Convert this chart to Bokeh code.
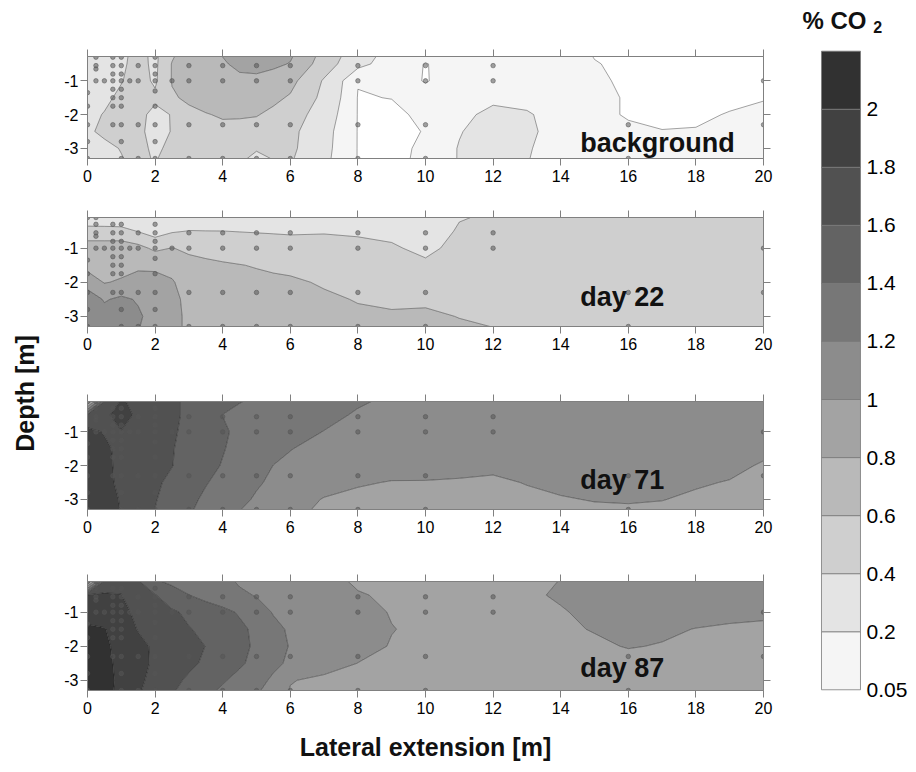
import numpy as np
from bokeh.plotting import figure
from bokeh.models import Range1d, LinearAxis, FixedTicker, Label, ColumnDataSource
from bokeh.core.properties import value
from bokeh.layouts import row, column
from bokeh.embed import file_html
from bokeh.resources import INLINE

FONT = "Liberation Sans"

# Grid nodes of the CO2 fields: lateral position [m] and depth [m]
lateral = [0, 0.5, 1, 1.5, 2, 2.5, 3, 3.5, 4, 4.5, 5, 5.5, 6, 7, 8, 9, 10,
           11, 12, 13, 14, 15, 16, 17, 18, 19, 20]
depth = [-0.1, -0.5, -1.0, -1.5, -2.0, -2.5, -3.0, -3.3]

# CO2 concentration [%] per depth row (top row = shallowest)
co2_background = [
    [0.30, 0.30, 0.36, 0.45, 0.36, 0.55, 0.70, 0.76, 0.82, 0.90, 0.95, 0.90, 0.85, 0.55, 0.30, 0.15, 0.10, 0.12, 0.13, 0.13, 0.10, 0.04, 0.03, 0.02, 0.02, 0.02, 0.02],
    [0.30, 0.30, 0.37, 0.46, 0.36, 0.61, 0.72, 0.75, 0.78, 0.84, 0.87, 0.84, 0.79, 0.50, 0.25, 0.12, 0.045, 0.10, 0.12, 0.12, 0.10, 0.055, 0.03, 0.02, 0.02, 0.02, 0.02],
    [0.30, 0.33, 0.39, 0.48, 0.37, 0.61, 0.68, 0.72, 0.75, 0.76, 0.75, 0.71, 0.66, 0.38, 0.055, 0.09, 0.045, 0.09, 0.12, 0.12, 0.10, 0.07, 0.03, 0.02, 0.02, 0.02, 0.03],
    [0.30, 0.36, 0.44, 0.50, 0.44, 0.58, 0.63, 0.68, 0.72, 0.72, 0.70, 0.64, 0.58, 0.35, 0.045, 0.052, 0.08, 0.12, 0.16, 0.14, 0.10, 0.08, 0.04, 0.02, 0.02, 0.03, 0.045],
    [0.35, 0.41, 0.47, 0.46, 0.34, 0.41, 0.56, 0.59, 0.62, 0.62, 0.61, 0.56, 0.50, 0.30, 0.045, 0.03, 0.07, 0.15, 0.25, 0.22, 0.12, 0.08, 0.04, 0.035, 0.035, 0.055, 0.07],
    [0.37, 0.44, 0.47, 0.45, 0.32, 0.41, 0.52, 0.54, 0.55, 0.54, 0.53, 0.50, 0.45, 0.26, 0.045, 0.02, 0.055, 0.19, 0.28, 0.24, 0.12, 0.08, 0.07, 0.052, 0.055, 0.07, 0.08],
    [0.30, 0.35, 0.41, 0.46, 0.36, 0.45, 0.48, 0.49, 0.50, 0.47, 0.42, 0.45, 0.44, 0.25, 0.045, 0.02, 0.07, 0.21, 0.28, 0.22, 0.10, 0.08, 0.08, 0.07, 0.07, 0.08, 0.08],
    [0.30, 0.34, 0.39, 0.46, 0.38, 0.50, 0.48, 0.49, 0.50, 0.44, 0.35, 0.41, 0.42, 0.24, 0.045, 0.02, 0.075, 0.21, 0.26, 0.21, 0.10, 0.08, 0.08, 0.08, 0.08, 0.08, 0.08],
]

co2_day22 = [
    [0.28, 0.27, 0.25, 0.30, 0.28, 0.30, 0.30, 0.30, 0.30, 0.30, 0.30, 0.30, 0.30, 0.30, 0.30, 0.30, 0.25, 0.39, 0.42, 0.50, 0.50, 0.50, 0.50, 0.50, 0.50, 0.50, 0.50],
    [0.47, 0.47, 0.47, 0.39, 0.31, 0.38, 0.405, 0.402, 0.401, 0.395, 0.39, 0.385, 0.38, 0.39, 0.38, 0.36, 0.30, 0.42, 0.45, 0.50, 0.50, 0.50, 0.50, 0.50, 0.50, 0.50, 0.50],
    [0.70, 0.70, 0.70, 0.66, 0.56, 0.605, 0.57, 0.545, 0.52, 0.505, 0.49, 0.48, 0.47, 0.45, 0.44, 0.42, 0.36, 0.45, 0.47, 0.50, 0.50, 0.50, 0.50, 0.50, 0.50, 0.50, 0.50],
    [0.74, 0.73, 0.74, 0.76, 0.77, 0.725, 0.65, 0.635, 0.62, 0.605, 0.59, 0.57, 0.55, 0.51, 0.49, 0.47, 0.43, 0.49, 0.50, 0.50, 0.50, 0.50, 0.50, 0.50, 0.50, 0.50, 0.50],
    [0.90, 0.79, 0.82, 0.88, 0.85, 0.82, 0.70, 0.68, 0.66, 0.65, 0.64, 0.635, 0.63, 0.58, 0.53, 0.52, 0.50, 0.52, 0.52, 0.50, 0.50, 0.50, 0.50, 0.50, 0.50, 0.50, 0.50],
    [1.13, 0.98, 1.04, 0.98, 0.90, 0.85, 0.75, 0.72, 0.70, 0.69, 0.68, 0.675, 0.67, 0.63, 0.59, 0.57, 0.57, 0.56, 0.55, 0.50, 0.50, 0.50, 0.50, 0.50, 0.50, 0.50, 0.50],
    [1.15, 1.08, 1.10, 1.03, 0.92, 0.86, 0.76, 0.74, 0.72, 0.71, 0.70, 0.69, 0.68, 0.66, 0.63, 0.62, 0.63, 0.595, 0.58, 0.50, 0.50, 0.50, 0.50, 0.50, 0.50, 0.50, 0.50],
    [1.15, 1.10, 1.10, 1.01, 0.92, 0.86, 0.76, 0.74, 0.72, 0.71, 0.70, 0.69, 0.68, 0.66, 0.64, 0.63, 0.64, 0.62, 0.598, 0.50, 0.50, 0.50, 0.50, 0.50, 0.50, 0.50, 0.50],
]

co2_day71 = [
    [0.60, 1.60, 1.82, 1.75, 1.68, 1.63, 1.57, 1.50, 1.44, 1.405, 1.38, 1.35, 1.33, 1.28, 1.22, 1.17, 1.15, 1.12, 1.12, 1.12, 1.12, 1.12, 1.12, 1.12, 1.12, 1.12, 1.12],
    [1.65, 1.75, 1.90, 1.75, 1.68, 1.63, 1.57, 1.49, 1.398, 1.37, 1.35, 1.33, 1.31, 1.25, 1.18, 1.15, 1.14, 1.12, 1.12, 1.12, 1.12, 1.12, 1.12, 1.12, 1.12, 1.12, 1.12],
    [1.85, 1.79, 1.79, 1.74, 1.68, 1.62, 1.56, 1.49, 1.42, 1.37, 1.33, 1.30, 1.27, 1.195, 1.16, 1.14, 1.13, 1.12, 1.12, 1.12, 1.12, 1.12, 1.12, 1.12, 1.12, 1.12, 1.12],
    [1.86, 1.83, 1.76, 1.72, 1.67, 1.61, 1.54, 1.47, 1.41, 1.35, 1.29, 1.25, 1.205, 1.15, 1.13, 1.12, 1.12, 1.12, 1.12, 1.12, 1.11, 1.11, 1.11, 1.10, 1.09, 1.07, 1.05],
    [1.87, 1.84, 1.76, 1.71, 1.65, 1.605, 1.52, 1.45, 1.39, 1.32, 1.26, 1.198, 1.17, 1.13, 1.10, 1.08, 1.07, 1.06, 1.05, 1.06, 1.08, 1.09, 1.10, 1.09, 1.08, 1.05, 0.98],
    [1.88, 1.84, 1.77, 1.70, 1.63, 1.56, 1.48, 1.41, 1.35, 1.28, 1.22, 1.17, 1.14, 1.07, 1.02, 0.99, 0.99, 0.98, 0.96, 1.01, 1.05, 1.07, 1.08, 1.05, 1.02, 0.99, 0.93],
    [1.88, 1.85, 1.79, 1.68, 1.61, 1.53, 1.44, 1.37, 1.31, 1.24, 1.18, 1.13, 1.08, 0.99, 0.95, 0.94, 0.93, 0.93, 0.92, 0.95, 0.985, 1.01, 1.015, 1.005, 0.97, 0.93, 0.90],
    [1.88, 1.85, 1.795, 1.68, 1.598, 1.52, 1.42, 1.35, 1.29, 1.205, 1.15, 1.10, 1.05, 0.97, 0.93, 0.92, 0.91, 0.91, 0.90, 0.92, 0.95, 0.97, 0.98, 0.97, 0.95, 0.92, 0.88],
]

co2_day87 = [
    [0.60, 1.65, 1.75, 1.62, 1.42, 1.37, 1.34, 1.31, 1.25, 1.18, 1.15, 1.12, 1.10, 1.05, 0.98, 0.95, 0.93, 0.92, 0.92, 0.95, 1.005, 1.05, 1.07, 1.07, 1.06, 1.05, 1.05],
    [1.82, 1.83, 1.805, 1.68, 1.61, 1.47, 1.402, 1.34, 1.28, 1.23, 1.19, 1.16, 1.13, 1.07, 1.01, 0.98, 0.95, 0.93, 0.93, 0.96, 1.03, 1.07, 1.09, 1.09, 1.08, 1.07, 1.07],
    [1.92, 1.90, 1.86, 1.75, 1.67, 1.63, 1.56, 1.50, 1.45, 1.38, 1.27, 1.19, 1.16, 1.11, 1.06, 0.99, 0.96, 0.94, 0.94, 0.96, 0.98, 1.06, 1.09, 1.09, 1.07, 1.04, 1.02],
    [2.03, 2.01, 1.90, 1.79, 1.72, 1.66, 1.61, 1.56, 1.48, 1.44, 1.36, 1.24, 1.18, 1.12, 1.07, 1.005, 0.97, 0.95, 0.94, 0.95, 0.97, 1.01, 1.04, 1.03, 0.995, 0.98, 0.98],
    [2.06, 2.04, 1.93, 1.85, 1.77, 1.70, 1.64, 1.598, 1.52, 1.45, 1.37, 1.27, 1.19, 1.12, 1.06, 0.99, 0.96, 0.94, 0.93, 0.93, 0.94, 0.97, 1.01, 0.99, 0.96, 0.95, 0.95],
    [2.08, 2.05, 1.95, 1.86, 1.77, 1.68, 1.64, 1.57, 1.49, 1.43, 1.34, 1.24, 1.17, 1.08, 0.998, 0.96, 0.94, 0.93, 0.92, 0.92, 0.92, 0.93, 0.94, 0.94, 0.93, 0.93, 0.93],
    [2.10, 2.06, 1.96, 1.84, 1.74, 1.65, 1.57, 1.49, 1.42, 1.34, 1.26, 1.17, 1.01, 0.96, 0.94, 0.93, 0.92, 0.92, 0.92, 0.92, 0.92, 0.92, 0.92, 0.92, 0.92, 0.92, 0.92],
    [2.10, 2.06, 1.95, 1.82, 1.72, 1.62, 1.53, 1.45, 1.37, 1.30, 1.22, 1.14, 0.99, 0.95, 0.92, 0.92, 0.92, 0.92, 0.92, 0.92, 0.92, 0.92, 0.92, 0.92, 0.92, 0.92, 0.92],
]

# Contour levels, their grey fills and the colour-bar labels
levels = [0.0, 0.05, 0.2, 0.4, 0.6, 0.8, 1.0, 1.2, 1.4, 1.6, 1.8, 2.0, 2.2]
band_colors = ["#ffffff", "#f5f5f5", "#e4e4e4", "#cfcfcf", "#b9b9b9", "#a3a3a3",
               "#8c8c8c", "#777777", "#636363", "#515151", "#414141", "#313131"]
level_labels = ["0.05", "0.2", "0.4", "0.6", "0.8", "1", "1.2", "1.4", "1.6", "1.8", "2"]

# Gas sampling points (lateral position, depth)
sample_x = ([0] * 6 + [0.25] * 5 + [0.5] + [0.75] * 8 + [1] * 10 + [1.25] + [1.5] * 4
            + [2] * 9 + [2.5] + [3] * 4 + [4] * 4 + [5] * 4 + [6] * 4 + [8] * 4
            + [10] * 4 + [12] * 2 + [16] * 2 + [20] * 2)
sample_depth = ([-0.1, -1.35, -1.75, -2.3, -2.8, -3.3]
                + [-0.1, -0.3, -0.55, -0.65, -1.0]
                + [-1.0]
                + [-0.3, -0.55, -0.8, -1.0, -1.25, -1.5, -1.75, -2.3]
                + [-0.3, -0.55, -0.8, -1.0, -1.25, -1.5, -1.75, -2.3, -2.8, -3.3]
                + [-1.0]
                + [-0.55, -1.0, -2.3, -3.3]
                + [-0.3, -0.55, -0.8, -1.0, -1.3, -1.75, -2.3, -2.8, -3.3]
                + [-1.0]
                + [-0.55, -1.0, -2.3, -3.3] * 7
                + [-1.0, -2.3] * 3)

x_ticks = [0, 2, 4, 6, 8, 10, 12, 14, 16, 18, 20]
depth_ticks = [-1, -2, -3]
AXIS_GREY = "#808080"


def style_axis(ax, labels=True):
    ax.axis_line_color = AXIS_GREY
    ax.major_tick_line_color = AXIS_GREY
    ax.minor_tick_line_color = None
    ax.major_tick_in = 0
    ax.major_tick_out = 7
    ax.major_label_text_font = FONT
    ax.major_label_text_color = "#000000"
    ax.major_label_text_font_size = "16px"
    ax.major_label_standoff = 4 if labels else 0
    if not labels:
        ax.major_label_overrides = {t: "" for t in ax.ticker.ticks}


def make_panel(grid, y_top, frame_h, pad_top, pad_bottom, tag, tag_center, xtitle=None):
    p = figure(width=735, height=pad_top + frame_h + pad_bottom,
               x_range=Range1d(0, 20), y_range=Range1d(-3.3, y_top),
               min_border_left=42, min_border_right=17,
               min_border_top=pad_top, min_border_bottom=pad_bottom,
               x_axis_location=None, y_axis_location=None,
               output_backend="svg", toolbar_location=None)
    p.outline_line_color = AXIS_GREY
    p.xgrid.visible = False
    p.ygrid.visible = False

    z = np.array(grid)[::-1]
    y = np.array(depth)[::-1]
    p.contour(np.array(lateral), y, z, levels=levels, fill_color=band_colors,
              line_color="#000000", line_alpha=0.45, line_width=0.8)

    src = ColumnDataSource(dict(x=sample_x, y=sample_depth))
    p.scatter("x", "y", source=src, size=4.5, color="#555555", alpha=0.55)

    xb = LinearAxis(ticker=FixedTicker(ticks=x_ticks))
    style_axis(xb)
    if xtitle:
        xb.axis_label = xtitle
        xb.axis_label_text_font = FONT
        xb.axis_label_text_font_size = "25px"
        xb.axis_label_text_font_style = "bold"
        xb.axis_label_text_color = "#111111"
        xb.axis_label_standoff = 16
    p.add_layout(xb, "below")

    xt = LinearAxis(ticker=FixedTicker(ticks=x_ticks))
    style_axis(xt, labels=False)
    p.add_layout(xt, "above")

    yl = LinearAxis(ticker=FixedTicker(ticks=depth_ticks),
                    major_label_overrides={-1: "-1", -2: "-2", -3: "-3"})
    style_axis(yl)
    yl.major_label_standoff = 2
    p.add_layout(yl, "left")

    yr = LinearAxis(ticker=FixedTicker(ticks=depth_ticks))
    style_axis(yr, labels=False)
    p.add_layout(yr, "right")

    p.add_layout(Label(x=14.58, y=tag_center, text=tag, text_font=FONT,
                       text_font_size="27px", text_font_style="bold",
                       text_color="#111111", text_baseline="middle"))
    return p


p1 = make_panel(co2_background, -0.28, 102, 56, 30, "background", -2.85)
p2 = make_panel(co2_day22, -0.1, 109, 29, 30, "day 22", -2.42)
p3 = make_panel(co2_day71, -0.1, 108, 45, 30, "day 71", -2.43)
p4 = make_panel(co2_day87, -0.1, 109, 42, 82, "day 87", -2.64,
                xtitle="Lateral extension [m]")

# Shared depth title on the left
ylab = figure(width=45, height=772, x_range=Range1d(0, 45), y_range=Range1d(0, 772),
              min_border=0, x_axis_location=None, y_axis_location=None,
              output_backend="svg", toolbar_location=None)
ylab.outline_line_color = None
ylab.xgrid.visible = False
ylab.ygrid.visible = False
ylab.add_layout(Label(x=24, y=379, text="Depth [m]", angle=np.pi / 2,
                      text_align="center", text_baseline="middle", text_font=FONT,
                      text_font_size="25px", text_font_style="bold", text_color="#111111"))

# Colour bar: equal-height bands indexed 0..10, labelled with the level values
n_bands = len(band_colors) - 1
cb = figure(width=136, height=772, x_range=Range1d(-1.051, 2.436),
            y_range=Range1d(-1.425, 11.873), min_border=0,
            x_axis_location=None, y_axis_location=None,
            output_backend="svg", toolbar_location=None)
cb.outline_line_color = None
cb.xgrid.visible = False
cb.ygrid.visible = False
cb_src = ColumnDataSource(dict(bottom=list(range(n_bands)),
                               top=list(range(1, n_bands + 1)),
                               color=band_colors[1:]))
cb.quad(left=0, right=1, bottom="bottom", top="top", fill_color="color",
        line_color="#7a7a7a", line_width=0.8, source=cb_src)
lab_src = ColumnDataSource(dict(x=[1] * len(level_labels),
                                y=list(range(len(level_labels))),
                                text=level_labels))
cb.text("x", "y", text="text", source=lab_src, x_offset=6, text_baseline="middle",
        text_align="left", text_font=value(FONT), text_font_size=value("21px"),
        text_color="#000000")
cb.add_layout(Label(x=-0.487, y=11.53, text="% CO", text_font=FONT,
                    text_font_size="24px", text_font_style="bold", text_color="#111111",
                    text_baseline="middle"))
cb.add_layout(Label(x=1.33, y=11.41, text="2", text_font=FONT,
                    text_font_size="16px", text_font_style="bold", text_color="#111111",
                    text_baseline="middle"))

layout = row(ylab, column(p1, p2, p3, p4), cb)
open("out.html", "w").write(file_html(layout, INLINE, title="CO2 profiles"))
